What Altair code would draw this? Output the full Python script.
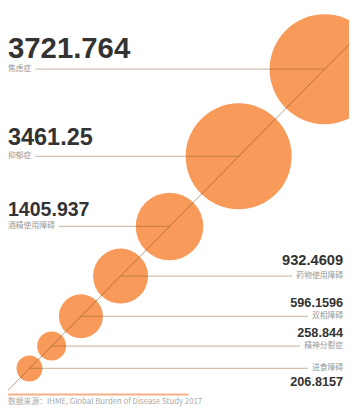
import math
import altair as alt
import pandas as pd

# ---------------- data ----------------
categories = ["焦虑症", "抑郁症", "酒精使用障碍", "药物使用障碍", "双相障碍", "精神分裂症", "进食障碍"]
values = [3721.764, 3461.25, 1405.937, 932.4609, 596.1596, 258.844, 206.8157]
value_labels = ["3721.764", "3461.25", "1405.937", "932.4609", "596.1596", "258.844", "206.8157"]
source_text = "数据来源：IHME, Global Burden of Disease Study 2017"

# ---------------- layout / style ----------------
W, H = 349, 398
K = 1.04                      # px of radius per sqrt(value)
GAP = 0.6
ANGLE = math.radians(45.4)
ANCHOR = (324, 58)            # centre of the largest bubble (chart px)
side = ["left", "left", "left", "right", "right", "right", "right"]
value_font = [30, 24, 20, 15, 13, 13, 13]
value_dy = [-12, -12, -11, -11, -9, -9, 18]
LABEL_FS = 8
LEFT_X, RIGHT_X = 0, 343
ORANGE = "#f79a5a"
LINE = "#8b5a2b"

n = len(values)
r = [K * math.sqrt(v) for v in values]
cx, cy = [ANCHOR[0]], [ANCHOR[1]]
cs, sn = math.cos(ANGLE), math.sin(ANGLE)
for i in range(1, n):
    d = r[i - 1] + r[i] + GAP
    cx.append(cx[-1] - d * cs)
    cy.append(cy[-1] + d * sn)

rows = []
for i in range(n):
    w = len(categories[i]) * LABEL_FS
    if side[i] == "left":
        lx1, lx2, tx = LEFT_X + w + 4, cx[i], LEFT_X
    else:
        lx1, lx2, tx = cx[i], RIGHT_X - w - 4, RIGHT_X
    rows.append(dict(cat=categories[i], value=values[i], label=value_labels[i],
                     cx=cx[i], cy=cy[i], lx1=lx1, lx2=lx2, tx=tx,
                     vy=cy[i] + value_dy[i], fs=value_font[i], side=side[i]))
df = pd.DataFrame(rows)

ext = 70
diag = pd.DataFrame([dict(x=cx[0] + ext * cs, y=cy[0] - ext * sn,
                          x2=cx[-1] - ext * cs, y2=cy[-1] + ext * sn)])
foot = pd.DataFrame([dict(x=0, x2=185, y=391, ty=395, t=source_text)])

xs = alt.Scale(domain=[0, W], nice=False, zero=False)
ys = alt.Scale(domain=[0, H], nice=False, zero=False, reverse=True)

base = alt.Chart(df)

circles = base.mark_circle(color=ORANGE, opacity=1).encode(
    x=alt.X("cx:Q", scale=xs, axis=None),
    y=alt.Y("cy:Q", scale=ys, axis=None),
    size=alt.Size("value:Q", legend=None,
                  scale=alt.Scale(domain=[0, max(values)],
                                  range=[0, math.pi * K * K * max(values)])),
)

diag_line = alt.Chart(diag).mark_rule(color=LINE, opacity=0.6, strokeWidth=1).encode(
    x=alt.X("x:Q", scale=xs, axis=None), y=alt.Y("y:Q", scale=ys, axis=None),
    x2="x2:Q", y2="y2:Q",
)

leaders = base.mark_rule(color=LINE, opacity=0.38, strokeWidth=1.3).encode(
    x=alt.X("lx1:Q", scale=xs, axis=None), x2="lx2:Q",
    y=alt.Y("cy:Q", scale=ys, axis=None),
)

layers = [circles, diag_line, leaders]

for s, al in (("left", "left"), ("right", "right")):
    sub = base.transform_filter(alt.datum.side == s)
    layers.append(sub.mark_text(align=al, baseline="alphabetic", font="Liberation Sans",
                                fontWeight="bold", color="#333333").encode(
        x=alt.X("tx:Q", scale=xs, axis=None), y=alt.Y("vy:Q", scale=ys, axis=None),
        text="label:N", size=alt.Size("fs:Q", scale=None),
    ))
    layers.append(sub.mark_text(align=al, baseline="middle", font="Noto Sans CJK SC",
                                fontSize=LABEL_FS, color="#999999").encode(
        x=alt.X("tx:Q", scale=xs, axis=None), y=alt.Y("cy:Q", scale=ys, axis=None),
        text="cat:N",
    ))

fchart = alt.Chart(foot)
layers.append(fchart.mark_rule(color="#f5b086", strokeWidth=2).encode(
    x=alt.X("x:Q", scale=xs, axis=None), x2="x2:Q", y=alt.Y("y:Q", scale=ys, axis=None)))
layers.append(fchart.mark_text(align="left", baseline="top", font="Noto Sans CJK SC",
                               fontSize=8, color="#aaaaaa").encode(
    x=alt.X("x:Q", scale=xs, axis=None), y=alt.Y("ty:Q", scale=ys, axis=None), text="t:N"))

chart = alt.layer(*layers).properties(
    width=W, height=H, autosize=alt.AutoSizeParams(type="none"), padding=0,
    background="white",
).configure_view(stroke=None)

chart.save("out.html", embed_options={"renderer": "svg", "actions": False})
